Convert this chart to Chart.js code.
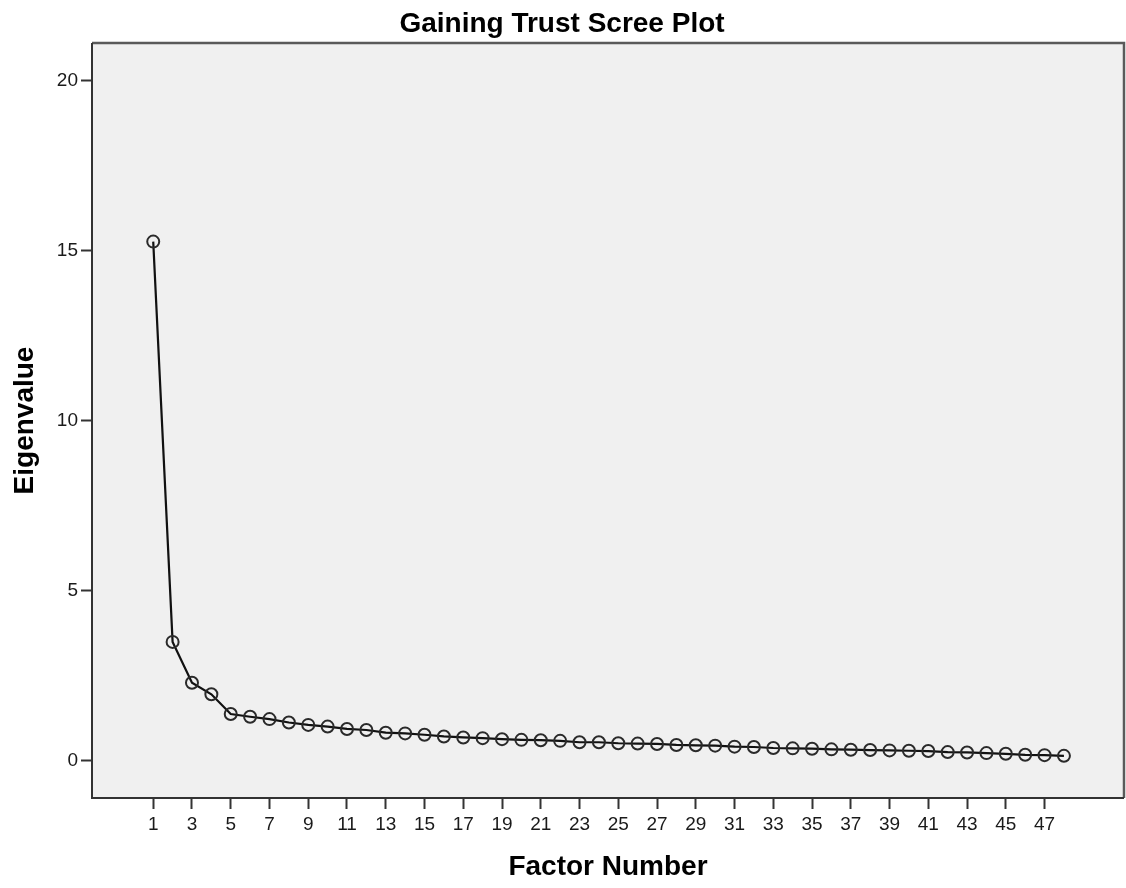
<!DOCTYPE html>
<html>
<head>
<meta charset="utf-8">
<script src="https://cdn.jsdelivr.net/npm/chart.js@4/dist/chart.umd.min.js"></script>
<style>
html,body{margin:0;padding:0;background:#fff;}
#wrap{width:1126px;height:888px;}
</style>
</head>
<body>
<div id="wrap"><canvas id="c" width="1126" height="888"></canvas></div>
<script>
const chartTitle = "Gaining Trust Scree Plot";
const xTitle = "Factor Number";
const yTitle = "Eigenvalue";
const factors = [1,2,3,4,5,6,7,8,9,10,11,12,13,14,15,16,17,18,19,20,21,22,23,24,25,26,27,28,29,30,31,32,33,34,35,36,37,38,39,40,41,42,43,44,45,46,47,48];
const eigenvalues = [15.26,3.49,2.29,1.95,1.37,1.29,1.22,1.12,1.05,1.00,
  0.93,0.90,0.82,0.80,0.76,0.71,0.68,0.66,0.63,0.61,
  0.60,0.58,0.54,0.54,0.51,0.50,0.49,0.46,0.45,0.44,
  0.41,0.40,0.37,0.36,0.35,0.33,0.32,0.31,0.30,0.29,
  0.28,0.25,0.24,0.22,0.20,0.17,0.16,0.14];
const xTickValues = [1,3,5,7,9,11,13,15,17,19,21,23,25,27,29,31,33,35,37,39,41,43,45,47];
const yTickValues = [0,5,10,15,20];

const FONT = "'Liberation Sans', Arial, sans-serif";

const plotBox = {
  id: 'plotBox',
  beforeDraw(chart) {
    const {ctx, chartArea: a} = chart;
    ctx.save();
    ctx.fillStyle = '#f0f0f0';
    ctx.fillRect(a.left, a.top, a.right - a.left, a.bottom - a.top);
    ctx.restore();
  },
  afterDraw(chart) {
    const {ctx, chartArea: a} = chart;
    ctx.save();
    ctx.strokeStyle = '#5a5a5a';
    ctx.lineWidth = 2.5;
    ctx.beginPath();
    ctx.moveTo(a.left, a.top);
    ctx.lineTo(a.right, a.top);
    ctx.lineTo(a.right, a.bottom);
    ctx.stroke();
    ctx.strokeStyle = '#333';
    ctx.lineWidth = 2;
    ctx.beginPath();
    ctx.moveTo(a.left, a.top);
    ctx.lineTo(a.left, a.bottom);
    ctx.lineTo(a.right, a.bottom);
    ctx.stroke();
    ctx.restore();
  }
};

new Chart(document.getElementById('c'), {
  type: 'line',
  data: {
    datasets: [{
      data: factors.map((f, i) => ({x: f, y: eigenvalues[i]})),
      borderColor: '#111',
      borderWidth: 2.2,
      pointRadius: 6,
      pointHoverRadius: 6,
      pointBorderWidth: 2,
      pointBorderColor: '#2a2a2a',
      pointBackgroundColor: 'rgba(0,0,0,0)',
      tension: 0,
      fill: false
    }]
  },
  options: {
    responsive: false,
    animation: false,
    devicePixelRatio: 1,
    layout: {autoPadding: false, padding: {left: 0, right: 2, top: 0, bottom: 0}},
    plugins: {
      legend: {display: false},
      tooltip: {enabled: false},
      title: {
        display: true,
        text: chartTitle,
        color: '#000',
        font: {family: FONT, size: 28, weight: 'bold', lineHeight: 1.2},
        padding: {top: 7, bottom: 2.4}
      }
    },
    scales: {
      x: {
        type: 'linear',
        min: -2.16,
        max: 51.1,
        afterBuildTicks(scale) { scale.ticks = xTickValues.map(v => ({value: v})); },
        afterFit(scale) { scale.height = 90; },
        ticks: {
          color: '#1a1a1a',
          font: {family: FONT, size: 19},
          padding: 4,
          autoSkip: false,
          maxRotation: 0,
          callback: v => String(v)
        },
        grid: {display: true, drawOnChartArea: false, drawTicks: true, tickLength: 11, tickColor: '#333', tickWidth: 2},
        border: {display: false},
        title: {
          display: true,
          text: xTitle,
          color: '#000',
          font: {family: FONT, size: 28, weight: 'bold', lineHeight: 1.2},
          padding: {top: 0, bottom: 4}
        }
      },
      y: {
        type: 'linear',
        min: -1.1,
        max: 21.1,
        afterBuildTicks(scale) { scale.ticks = yTickValues.map(v => ({value: v})); },
        afterFit(scale) { scale.width = 92; },
        ticks: {
          color: '#1a1a1a',
          font: {family: FONT, size: 19},
          padding: 3,
          callback: v => String(v)
        },
        grid: {display: true, drawOnChartArea: false, drawTicks: true, tickLength: 11, tickColor: '#333', tickWidth: 2},
        border: {display: false},
        title: {
          display: true,
          text: yTitle,
          color: '#000',
          font: {family: FONT, size: 28, weight: 'bold', lineHeight: 1.2},
          padding: {top: 8, bottom: 0}
        }
      }
    }
  },
  plugins: [plotBox]
});
</script>
</body>
</html>
